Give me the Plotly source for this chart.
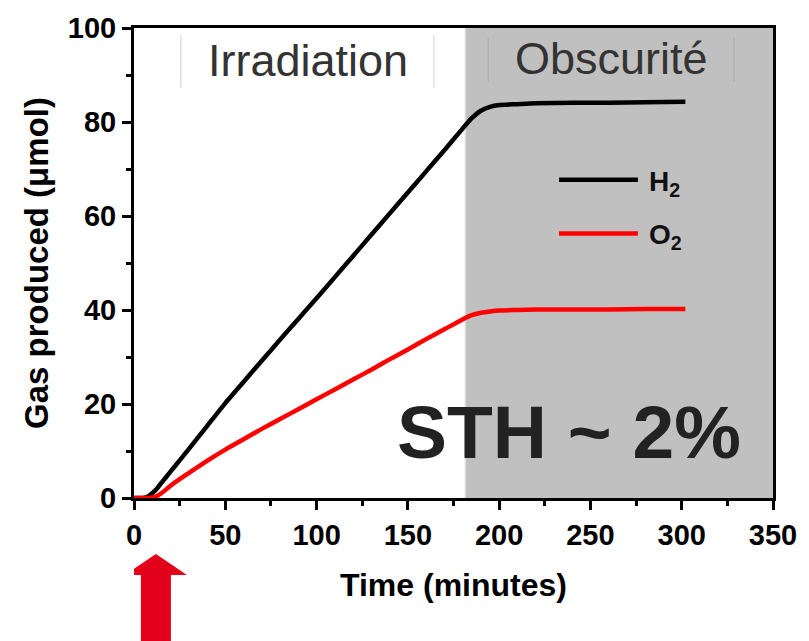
import plotly.graph_objects as go

# ---- data ----
time_min = [0, 5, 8, 10, 13, 15, 20, 25, 30, 40, 50, 60, 70, 80, 90, 100, 110, 120, 130,
            140, 150, 160, 170, 180, 185, 190, 195, 200, 210, 220, 240, 260, 280, 302]
h2_umol = [0, 0, 0.4, 1.0, 2.2, 3.2, 5.6, 8.0, 10.4, 15.3, 20.2, 24.7, 29.2, 33.7, 38.1,
           42.5, 47.0, 51.5, 56.0, 60.5, 65.0, 69.5, 74.0, 78.6, 80.8, 82.4, 83.2, 83.6,
           83.8, 84.0, 84.1, 84.1, 84.2, 84.3]
o2_umol = [0, 0, 0, 0.1, 0.5, 1.0, 2.6, 4.0, 5.3, 7.9, 10.3, 12.5, 14.7, 16.8, 18.9,
           21.0, 23.1, 25.2, 27.3, 29.5, 31.6, 33.8, 35.9, 38.0, 38.9, 39.4, 39.7, 39.9,
           40.0, 40.1, 40.1, 40.1, 40.2, 40.2]

dark_start = 181.5   # start of the dark (Obscurité) period, minutes
x_range = [0, 350]
y_range = [0, 100]
arrow_time = 12.0    # irradiation start marker (red arrow)

FONT = "Liberation Sans, Arial, sans-serif"

fig = go.Figure()

fig.add_trace(go.Scatter(x=time_min, y=h2_umol, mode="lines", name="H<sub>2</sub>",
                         line=dict(color="black", width=4.5, shape="spline", smoothing=0.5),
                         showlegend=False))
fig.add_trace(go.Scatter(x=time_min, y=o2_umol, mode="lines", name="O<sub>2</sub>",
                         line=dict(color="#ff0000", width=4.5, shape="spline", smoothing=0.5),
                         showlegend=False))

shapes = []
# dark period background
shapes.append(dict(type="rect", xref="x", yref="y", x0=dark_start, x1=x_range[1],
                   y0=y_range[0], y1=y_range[1], fillcolor="#c0c0c0",
                   line=dict(width=0), layer="below"))
shapes.append(dict(type="line", xref="x", yref="y", x0=dark_start, x1=dark_start,
                   y0=y_range[0], y1=y_range[1], line=dict(color="#dcdcdc", width=1.5),
                   layer="below"))
# label separators
for xs, col, y0, y1 in [(25.7, "#cfcfcf", 87.3, 98.5), (164.3, "#cfcfcf", 87.3, 98.5),
                        (194.0, "#a9a9a9", 88.6, 97.9), (328.6, "#a9a9a9", 88.6, 97.9)]:
    shapes.append(dict(type="line", xref="x", yref="y", x0=xs, x1=xs, y0=y0, y1=y1,
                       line=dict(color=col, width=1)))
# legend sample lines
leg_x0, leg_x1 = 232.8, 276.0
shapes.append(dict(type="line", xref="x", yref="y", x0=leg_x0, x1=leg_x1, y0=67.7, y1=67.7,
                   line=dict(color="black", width=4.5)))
shapes.append(dict(type="line", xref="x", yref="y", x0=leg_x0, x1=leg_x1, y0=56.3, y1=56.3,
                   line=dict(color="#ff0000", width=4.5)))
# red arrow below x axis
shapes.append(dict(type="path", xref="x", yref="paper", xsizemode="pixel", ysizemode="pixel",
                   xanchor=arrow_time, yanchor=0,
                   path="M 0,-56 L 31,-77 L 15,-77 L 15,-160 L -15,-160 L -15,-77 L -31,-77 Z",
                   fillcolor="#e2001a", line=dict(width=0)))

annotations = [
    dict(x=95.4, y=93.0, xref="x", yref="y", text="Irradiation", showarrow=False,
         font=dict(family=FONT, size=45, color="#333333")),
    dict(x=261.8, y=93.6, xref="x", yref="y", text="Obscurité", showarrow=False,
         font=dict(family=FONT, size=45, color="#333333")),
    dict(x=238.4, y=14.0, xref="x", yref="y", text="<b>STH ~ 2%</b>", showarrow=False,
         font=dict(family=FONT, size=75, color="#222222")),
    dict(x=281.0, y=67.0, xref="x", yref="y", text="<b>H<sub>2</sub></b>", showarrow=False,
         xanchor="left", yanchor="middle", font=dict(family=FONT, size=28, color="#111111")),
    dict(x=281.0, y=55.6, xref="x", yref="y", text="<b>O<sub>2</sub></b>", showarrow=False,
         xanchor="left", yanchor="middle", font=dict(family=FONT, size=28, color="#111111")),
]

axis_common = dict(showline=True, linecolor="black", linewidth=3, mirror=True,
                   ticks="outside", ticklen=9, tickwidth=2.5, tickcolor="black",
                   showgrid=False, zeroline=False,
                   tickfont=dict(family=FONT, size=29, color="black", weight="bold"))

fig.update_layout(
    width=809, height=641,
    margin=dict(l=134, r=25, t=25, b=143),
    paper_bgcolor="white", plot_bgcolor="white",
    shapes=shapes, annotations=annotations,
    xaxis=dict(range=x_range, dtick=50, tick0=0,
               minor=dict(dtick=25, ticks="outside", ticklen=5, tickwidth=2.5,
                          tickcolor="black"),
               title=dict(text="<b>Time (minutes)</b>", standoff=24,
                          font=dict(family=FONT, size=32, color="black")),
               **axis_common),
    yaxis=dict(range=y_range, dtick=20, tick0=0,
               minor=dict(dtick=10, ticks="outside", ticklen=5, tickwidth=2.5,
                          tickcolor="black"),
               title=dict(text="<b>Gas produced (μmol)</b>", standoff=10,
                          font=dict(family=FONT, size=33, color="black")),
               **axis_common),
)

fig.write_html("out.html")
